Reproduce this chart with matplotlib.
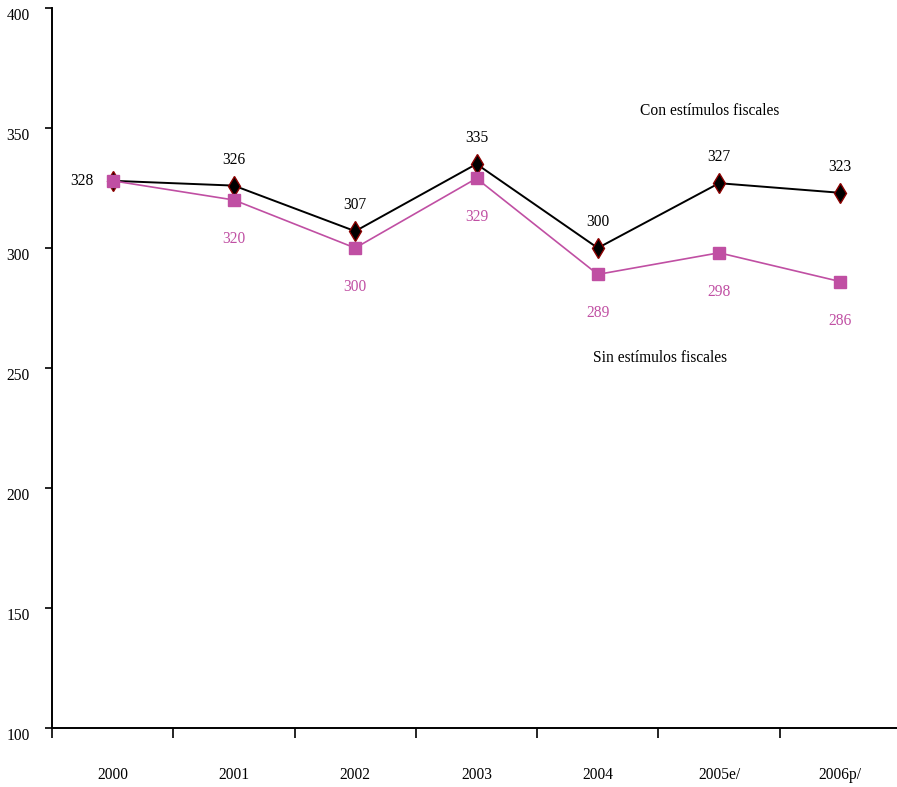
import numpy as np
import matplotlib
matplotlib.use("Agg")
import matplotlib.pyplot as plt

# Data
years = ["2000", "2001", "2002", "2003", "2004", "2005e/", "2006p/"]
con_estimulos = [328, 326, 307, 335, 300, 327, 323]
sin_estimulos = [328, 320, 300, 329, 289, 298, 286]

pink = "#C04FA3"
fs = 11.2
plt.rcParams['font.family'] = ['Liberation Serif', 'DejaVu Serif']

fig = plt.figure(figsize=(8.97, 7.87), dpi=100)
ax = fig.add_axes([52 / 897, 59 / 787, 849 / 897, 720 / 787])

x = np.arange(len(years))
ax.plot(x, con_estimulos, color="black", lw=1.4, marker="d", ms=10.5,
        mfc="black", mec="#8B0000", mew=1.0, zorder=3)
ax.plot(x, sin_estimulos, color=pink, lw=1.2, marker="s", ms=9,
        mfc=pink, mec=pink, zorder=4)

# value labels
for i, v in enumerate(con_estimulos):
    if i == 0:
        ax.annotate(str(v), (x[i], v), xytext=(-31, 0), textcoords="offset pixels",
                    ha="center", va="center", fontsize=fs, color="black")
    else:
        ax.annotate(str(v), (x[i], v), xytext=(0, 26), textcoords="offset pixels",
                    ha="center", va="center", fontsize=fs, color="black")
for i, v in enumerate(sin_estimulos):
    if i == 0:
        continue
    ax.annotate(str(v), (x[i], v), xytext=(0, -39), textcoords="offset pixels",
                ha="center", va="center", fontsize=fs, color=pink)

ax.text(4.92, 357, "Con estímulos fiscales", ha="center", va="center", fontsize=fs)
ax.text(4.51, 254, "Sin estímulos fiscales", ha="center", va="center", fontsize=fs)

ax.set_xlim(-0.5, 6.5)
ax.set_ylim(100, 400)
ax.set_yticks(np.arange(100, 401, 50))
ax.set_xticks(np.arange(-0.5, 6.5, 1))
ax.set_xticklabels([])
ax.set_xticks(x, minor=True)
ax.set_xticklabels(years, minor=True)
ax.tick_params(axis="x", which="minor", length=0, pad=28, labelsize=fs)
ax.tick_params(axis="x", which="major", direction="out", length=7, width=1.2)
ax.tick_params(axis="y", direction="out", length=5, width=1.2, pad=11, labelsize=fs)
for lab in ax.get_yticklabels():
    lab.set_va("top")

ax.spines["top"].set_visible(False)
ax.spines["right"].set_visible(False)
ax.spines["left"].set_linewidth(1.4)
ax.spines["bottom"].set_linewidth(1.4)

fig.savefig("out.png", dpi=100)
